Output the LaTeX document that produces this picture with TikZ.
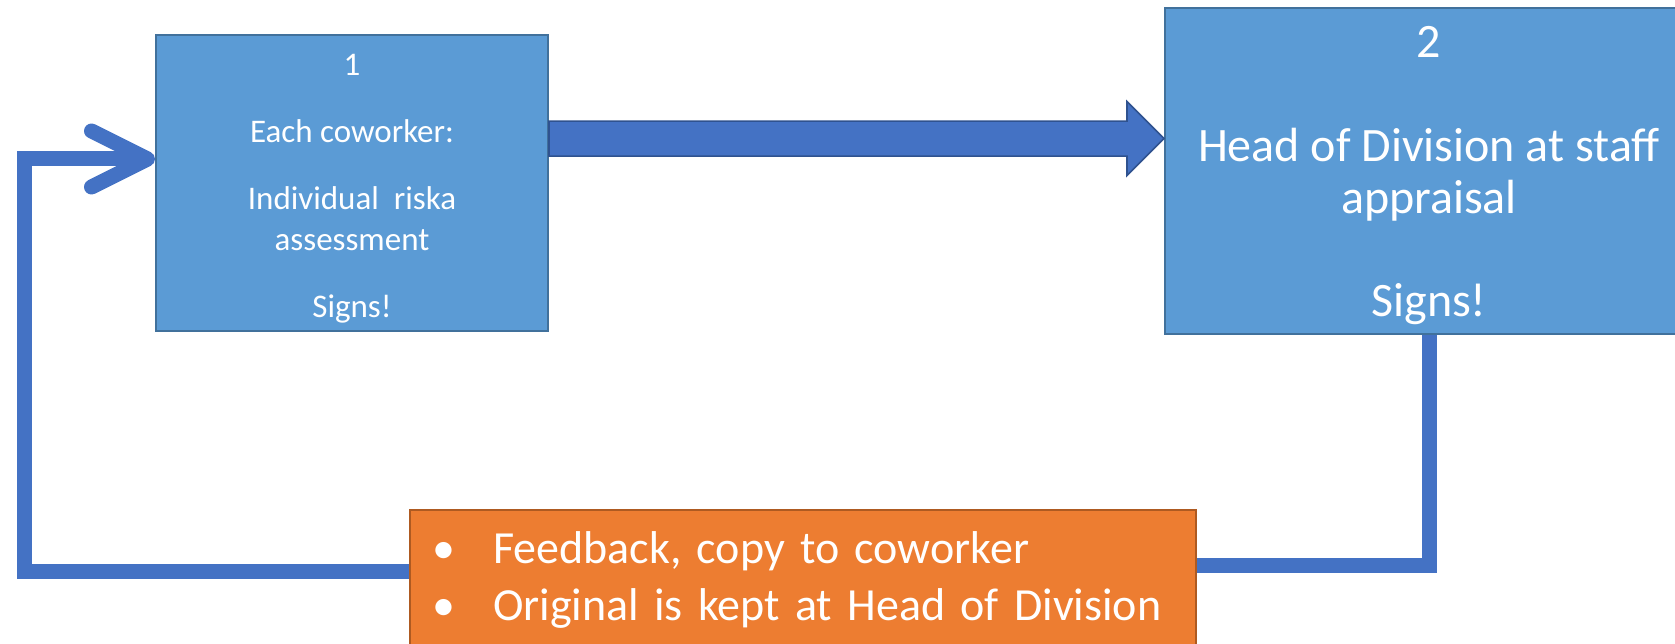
\documentclass[tikz,border=0pt]{standalone}
\usepackage{fontspec}
\setmainfont{Carlito}
\usetikzlibrary{arrows.meta,calc,positioning}
\definecolor{boxblue}{HTML}{5B9BD5}
\definecolor{boxedge}{HTML}{41719C}
\definecolor{linkblue}{HTML}{4472C4}
\definecolor{linkedge}{HTML}{2F528F}
\definecolor{notefill}{HTML}{ED7D31}
\definecolor{noteedge}{HTML}{AE5A21}

\begin{document}
\begin{tikzpicture}[x=1pt,y=1pt,
  stagebox/.style={draw=boxedge,fill=boxblue,line width=2pt,text=white,
    align=center,inner sep=0pt},
  blockarrow/.style={draw=linkedge,fill=linkblue,line width=1.6pt,line join=miter},
  loopline/.style={draw=linkblue,line width=15pt},
  notebox/.style={draw=noteedge,fill=notefill,line width=2pt,text=white,
    align=left,anchor=north west,inner xsep=22pt,inner ysep=22pt,
    text width=742pt}]
 \useasboundingbox[fill=white] (0,0) rectangle (1675,644);
 \node[stagebox,minimum width=392pt,minimum height=296pt,
    font=\fontsize{33}{41}\selectfont] (coworker) at (352,461)
   {\rule{0pt}{33pt}1\\[26pt]Each coworker:\\[26pt]Individual\ \ riska\\
    assessment\\[26pt]Signs!};
 \node[stagebox,minimum width=528pt,minimum height=326pt,
    font=\fontsize{48}{52}\selectfont] (head) at (1429,473)
   {\rule{0pt}{40pt}2\\[52pt]Head of Division at staff\\appraisal\\[51pt]Signs!};
 \coordinate (flow) at ($(coworker.north east)!.351!(coworker.south east)$);
 \filldraw[blockarrow] let \p1=(coworker.east), \p2=(head.west), \p3=(flow) in
   (\x1,\y3+17.5pt) -- (\x2-37pt,\y3+17.5pt) -- (\x2-37pt,\y3+37pt) -- (\x2,\y3)
   -- (\x2-37pt,\y3-37pt) -- (\x2-37pt,\y3-17.5pt) -- (\x1,\y3-17.5pt) -- cycle;
 \coordinate (turnR) at (1429,78);
 \coordinate (turnL) at (24,72);
 \draw[loopline] (head.south) -- (turnR) -- (turnR -| 1195,0);
 \draw[loopline,-{Straight Barb[length=56pt,width=56pt,line width=15pt,round]}]
   (turnL -| 409,0) -- (turnL) |- ([yshift=24pt]coworker.west);
 \node[notebox,font=\fontsize{46}{57}\selectfont] (feedback) at (409,135)
   {\makebox[61pt][l]{\textbullet}Feedback, copy to coworker\\
    \makebox[61pt][l]{\textbullet}Original is kept at Head of Division};
\end{tikzpicture}
\end{document}
